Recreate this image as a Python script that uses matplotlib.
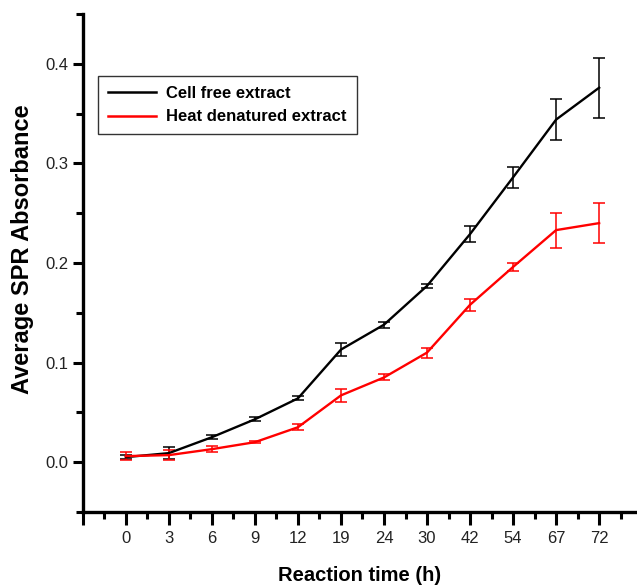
import matplotlib
matplotlib.use("Agg")
import matplotlib.pyplot as plt
from matplotlib.ticker import FixedLocator
from matplotlib.lines import Line2D

plt.rcParams['font.family'] = ['Liberation Sans', 'DejaVu Sans']

time_labels = ["0", "3", "6", "9", "12", "19", "24", "30", "42", "54", "67", "72"]
cell_free = [0.005, 0.009, 0.025, 0.043, 0.064, 0.113, 0.138, 0.177, 0.229, 0.286, 0.344, 0.376]
cell_free_err = [0.002, 0.006, 0.002, 0.002, 0.002, 0.0065, 0.003, 0.002, 0.008, 0.0105, 0.0205, 0.030]
heat_den = [0.006, 0.007, 0.013, 0.020, 0.035, 0.067, 0.085, 0.110, 0.158, 0.196, 0.233, 0.240]
heat_den_err = [0.004, 0.005, 0.003, 0.001, 0.003, 0.0065, 0.003, 0.005, 0.006, 0.004, 0.0175, 0.020]
series_names = ['Cell free extract', 'Heat denatured extract']
series_colors = ['black', 'red']

x = list(range(len(time_labels)))

fig = plt.figure(figsize=(6.37, 5.85), dpi=100)
ax = fig.add_axes([0.130, 0.125, 0.870, 0.851])

for vals, errs, col in [(cell_free, cell_free_err, series_colors[0]),
                        (heat_den, heat_den_err, series_colors[1])]:
    ax.errorbar(x, vals, yerr=errs, color=col, lw=1.7,
                elinewidth=1.1, capsize=4, capthick=1.1)

ax.set_xlim(-1, 11.88)
ax.set_ylim(-0.05, 0.45)

ax.set_xticks([-1] + x)
ax.set_xticklabels([""] + time_labels)
ax.xaxis.set_minor_locator(FixedLocator([i + 0.5 for i in range(-1, 12)]))
ax.yaxis.set_major_locator(FixedLocator([0.0, 0.1, 0.2, 0.3, 0.4]))
ax.set_yticklabels(["0.0", "0.1", "0.2", "0.3", "0.4"])
ax.yaxis.set_minor_locator(FixedLocator([-0.05, 0.05, 0.15, 0.25, 0.35, 0.45]))

for s in ['top', 'right']:
    ax.spines[s].set_visible(False)
for s in ['left', 'bottom']:
    ax.spines[s].set_linewidth(2.4)

ax.tick_params(axis='both', which='major', direction='out', length=7, width=2.2,
               labelsize=12, colors='black', labelcolor='#222222')
ax.tick_params(axis='x', which='major', length=9, pad=5)
ax.tick_params(axis='both', which='minor', direction='out', length=5, width=2.2)

ax.set_xlabel('Reaction time (h)', fontsize=14.5, fontweight='bold', labelpad=14)
ax.set_ylabel('Average SPR Absorbance', fontsize=17, fontweight='bold')
ax.yaxis.set_label_coords(-0.088, 0.528)

handles = [Line2D([], [], color=c, lw=1.8) for c in series_colors]
leg = ax.legend(handles, series_names, loc='upper left', bbox_to_anchor=(0.027, 0.8755),
                fontsize=12, frameon=True, fancybox=False, edgecolor='black',
                handlelength=2.9, borderpad=0.6, labelspacing=0.5, handletextpad=0.6,
                borderaxespad=0)
leg.get_frame().set_linewidth(1.0)
for t in leg.get_texts():
    t.set_fontweight('bold')

fig.savefig('out.png', dpi=100)
